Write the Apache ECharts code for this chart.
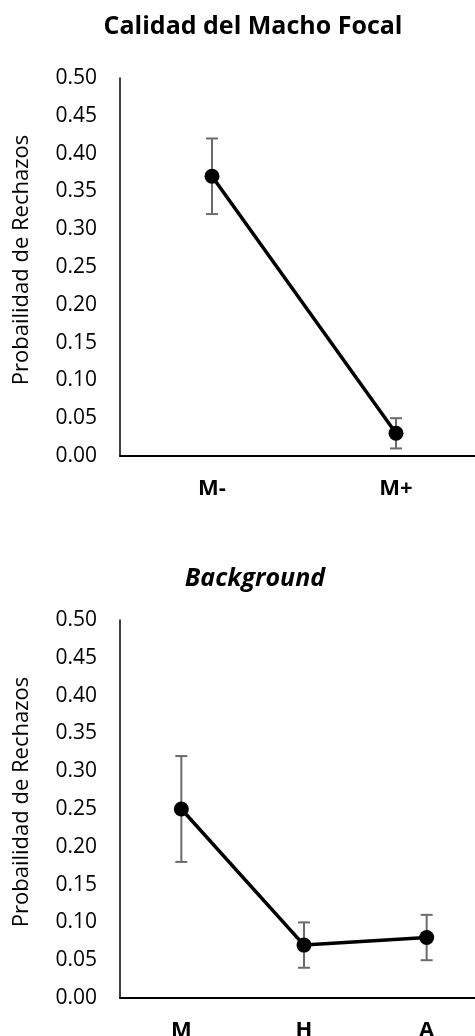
<!DOCTYPE html>
<html>
<head>
<meta charset="utf-8">
<script src="https://cdn.jsdelivr.net/npm/echarts@6/dist/echarts.min.js"></script>
<style>
  html, body { margin: 0; padding: 0; background: #fff; }
  #main { width: 475px; height: 1036px; }
</style>
</head>
<body>
<div id="main"></div>
<script>
// calidad del macho focal
var cats1 = ['M-', 'M+'];
var prob1 = [0.37, 0.03];
var low1 = [0.32, 0.01];
var high1 = [0.42, 0.05];

// background
var cats2 = ['M', 'H', 'A'];
var prob2 = [0.25, 0.07, 0.08];
var low2 = [0.18, 0.04, 0.05];
var high2 = [0.32, 0.10, 0.11];

var yTicks = [0, 0.05, 0.10, 0.15, 0.20, 0.25, 0.30, 0.35, 0.40, 0.45, 0.50];

var font = '"Open Sans", sans-serif';

function errData(low, high) {
    return low.map(function (v, i) { return [i, v, high[i]]; });
}

function errItem(params, api) {
    var i = api.value(0);
    var lo = api.coord([i, api.value(1)]);
    var hi = api.coord([i, api.value(2)]);
    var w = 6;
    var st = { stroke: '#6b6b6b', lineWidth: 2 };
    return {
        type: 'group',
        children: [
            { type: 'line', shape: { x1: hi[0], y1: hi[1], x2: lo[0], y2: lo[1] }, style: st },
            { type: 'line', shape: { x1: hi[0] - w, y1: hi[1], x2: hi[0] + w, y2: hi[1] }, style: st },
            { type: 'line', shape: { x1: lo[0] - w, y1: lo[1], x2: lo[0] + w, y2: lo[1] }, style: st }
        ]
    };
}

function yAxisOpt(idx) {
    return {
        gridIndex: idx,
        type: 'value',
        min: 0,
        max: yTicks[yTicks.length - 1],
        interval: 0.05,
        name: 'Probailidad de Rechazos',
        nameLocation: 'middle',
        nameGap: 87,
        nameTextStyle: { fontFamily: font, fontSize: 22, color: '#000', padding: [0, 0, 0, 14] },
        axisLine: { show: true, lineStyle: { color: '#000', width: 1.5 } },
        axisTick: { show: false },
        splitLine: { show: false },
        axisLabel: {
            fontFamily: font, fontSize: 21, color: '#000', margin: 23,
            formatter: function (v) { return v.toFixed(2); }
        }
    };
}

function xAxisOpt(idx, cats) {
    return {
        gridIndex: idx,
        type: 'category',
        data: cats,
        boundaryGap: true,
        axisLine: { lineStyle: { color: '#000', width: 2 } },
        axisTick: { show: false },
        axisLabel: { fontFamily: font, fontSize: 22, fontWeight: 'bold', color: '#000', margin: 22 }
    };
}

var myChart = echarts.init(document.getElementById('main'));
var option = {
    animation: false,
    backgroundColor: '#fff',
    title: [
        {
            text: 'Calidad del Macho Focal', left: 248, top: 9, textAlign: 'center',
            textStyle: { fontFamily: font, fontSize: 25, fontWeight: 'bold', color: '#000' }
        },
        {
            text: 'Background', left: 250, top: 561, textAlign: 'center',
            textStyle: { fontFamily: font, fontSize: 25, fontWeight: 'bold', fontStyle: 'italic', color: '#000' }
        }
    ],
    grid: [
        { left: 120, width: 368, top: 78, height: 378, outerBoundsMode: 'none', containLabel: false },
        { left: 120, width: 368, top: 620, height: 378, outerBoundsMode: 'none', containLabel: false }
    ],
    xAxis: [xAxisOpt(0, cats1), xAxisOpt(1, cats2)],
    yAxis: [yAxisOpt(0), yAxisOpt(1)],
    series: [
        {
            type: 'custom', xAxisIndex: 0, yAxisIndex: 0, z: 1,
            renderItem: errItem, data: errData(low1, high1)
        },
        {
            type: 'line', xAxisIndex: 0, yAxisIndex: 0, z: 2,
            data: prob1, symbol: 'circle', symbolSize: 15,
            itemStyle: { color: '#000' },
            lineStyle: { color: '#000', width: 3.5 }
        },
        {
            type: 'custom', xAxisIndex: 1, yAxisIndex: 1, z: 1,
            renderItem: errItem, data: errData(low2, high2)
        },
        {
            type: 'line', xAxisIndex: 1, yAxisIndex: 1, z: 2,
            data: prob2, symbol: 'circle', symbolSize: 15,
            itemStyle: { color: '#000' },
            lineStyle: { color: '#000', width: 3.5 }
        }
    ]
};
option && myChart.setOption(option);
</script>
</body>
</html>
